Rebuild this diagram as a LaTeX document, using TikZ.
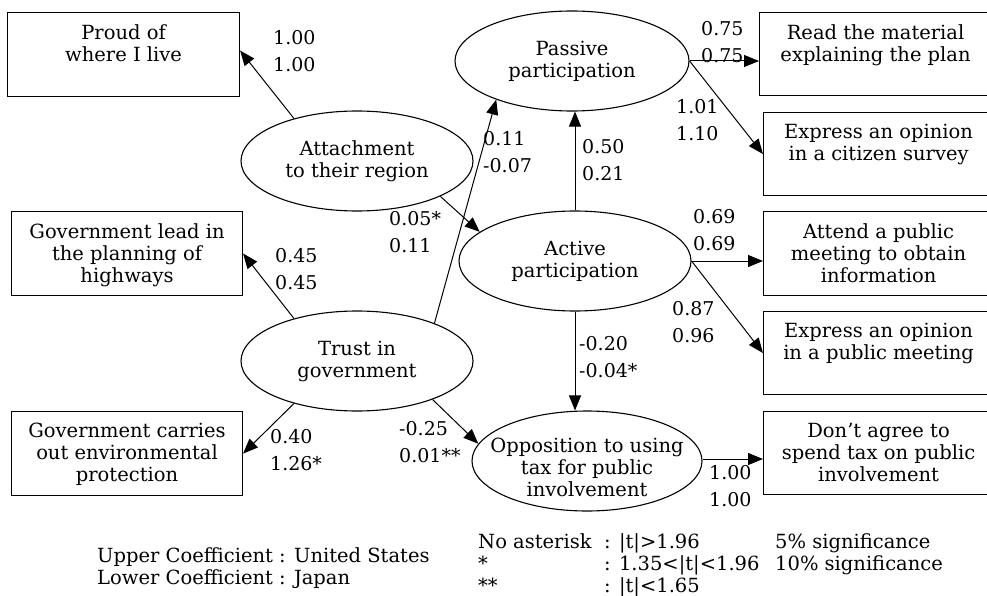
\documentclass[tikz,border=0pt]{standalone}
\usepackage{fontspec}
\setmainfont{DejaVu Serif}
\usetikzlibrary{arrows.meta,shapes.geometric}
\begin{document}
\begin{tikzpicture}[x=1pt,y=-1pt,
  box/.style={draw,line width=1.1pt,rectangle,minimum width=231pt,minimum height=84pt,inner sep=0pt,anchor=north west},
  btxt/.style={anchor=north,align=center,inner sep=0pt,font=\fontsize{19.5}{22}\selectfont},
  ell/.style={draw,line width=1.1pt,ellipse,minimum width=232pt,minimum height=100pt,inner sep=0pt},
  etxt/.style={align=center,inner sep=0pt,font=\fontsize{19.5}{22}\selectfont},
  arr/.style={-{Triangle[length=15pt,width=12pt]},line width=1pt},
  lab/.style={anchor=north west,align=left,inner sep=0pt,font=\fontsize{19}{27.5}\selectfont},
  leg/.style={anchor=base west,inner sep=0pt,font=\fontsize{19.5}{22}\selectfont}]
\useasboundingbox (0,0) rectangle (987,596);

% boxes
\node[box,minimum width=232pt] (proud) at (7,12) {};
\node[box] (govlead) at (11,211) {};
\node[box] (carries) at (11,411) {};
\node[box,minimum width=232pt,minimum height=83pt] (read) at (759,12) {};
\node[box,minimum width=230pt,minimum height=83pt] (cit) at (763,112) {};
\node[box,minimum width=230pt] (attend) at (763,211) {};
\node[box,minimum width=230pt,minimum height=83pt] (pubm) at (763,311) {};
\node[box,minimum width=230pt,minimum height=83pt] (dont) at (763,411) {};

\node[btxt] (tproud) at ([yshift=-12pt]proud.north) {Proud of\\where I live};
\node[btxt] (tgovlead) at ([yshift=-12pt]govlead.north) {Government lead in\\the planning of\\highways};
\node[btxt] (tcarries) at ([yshift=-12pt]carries.north) {Government carries\\out environmental\\protection};
\node[btxt] (tread) at ([yshift=-12pt]read.north) {Read the material\\explaining the plan};
\node[btxt] (tcit) at ([yshift=-12pt]cit.north) {Express an opinion\\in a citizen survey};
\node[btxt] (tattend) at ([yshift=-12pt]attend.north) {Attend a public\\meeting to obtain\\information};
\node[btxt] (tpubm) at ([yshift=-12pt]pubm.north) {Express an opinion\\in a public meeting};
\node[btxt] (tdont) at ([yshift=-12pt]dont.north) {Don’t agree to\\spend tax on public\\involvement};

% ellipses
\node[ell] (att) at (357,161) {};
\node[ell] (trust) at (357,361) {};
\node[ell,minimum width=234pt] (pas) at (572,61) {};
\node[ell] (act) at (575,261) {};
\node[ell,minimum width=230pt] (opp) at (587,461) {};

\node[etxt] (tatt) at (att) {Attachment\\to their region};
\node[etxt] (ttrust) at (trust) {Trust in\\government};
\node[etxt] (tpas) at (pas) {Passive\\participation};
\node[etxt] (tact) at (act) {Active\\participation};
\node[etxt] (topp) at ([yshift=-6pt]opp.center) {Opposition to using\\tax for public\\involvement};

% connectors
\draw[arr] (att.146) -- ([yshift=4pt]proud.east);
\draw[arr] (trust.146) -- (govlead.east);
\draw[arr] (trust.214) -- (carries.east);
\draw[arr] (trust.333) -- (opp.171);
\draw[arr] (trust.26) -- (pas.207);
\draw[arr] (att.337) -- (act.163);
\draw[arr] (act.north) -- (act.north |- pas.south);
\draw[arr] (pas.east) -- (pas.east -| read.west);
\draw[arr] (pas.east) -- (cit.west);
\draw[arr] (act.east) -- (act.east -| attend.west);
\draw[arr] (act.east) -- (pubm.west);
\draw[arr] ([yshift=2pt]opp.east) -- ([yshift=2pt]opp.east -| dont.west);
\draw[arr] (act.south) -- (act.south |- opp.north);

% coefficient labels
\node[lab] (l1) at (273,30) {1.00\\1.00};
\node[lab] (l2) at (275,248) {0.45\\0.45};
\node[lab] (l3) at (389,211) {0.05*\\0.11};
\node[lab] (l4) at (483,131) {0.11\\-0.07};
\node[lab] (l5) at (582,139) {0.50\\0.21};
\node[lab] (l6) at (701,21) {0.75\\0.75};
\node[lab] (l7) at (676,99) {1.01\\1.10};
\node[lab] (l8) at (693,209) {0.69\\0.69};
\node[lab] (l9) at (672,301) {0.87\\0.96};
\node[lab] (l10) at (579,336) {-0.20\\-0.04*};
\node[lab] (l11) at (709,465) {1.00\\1.00};
\node[lab] (l12) at (270,429) {0.40\\1.26*};
\node[lab] (l13) at (399,421) {-0.25\\0.01**};

% legend
\node[leg] (g1) at (97,562) {Upper Coefficient : United States};
\node[leg] (g2) at (97,584) {Lower Coefficient : Japan};
\node[leg] (r1a) at (478,548) {No asterisk};
\node[leg] (r1b) at (604,548) {: \textbar t\textbar>1.96};
\node[leg] (r1c) at (775,548) {5\% significance};
\node[leg] (r2a) at (478,570) {*};
\node[leg] (r2b) at (604,570) {: 1.35<\textbar t\textbar<1.96};
\node[leg] (r2c) at (775,570) {10\% significance};
\node[leg] (r3a) at (478,592) {**};
\node[leg] (r3b) at (604,592) {: \textbar t\textbar<1.65};
\end{tikzpicture}
\end{document}
